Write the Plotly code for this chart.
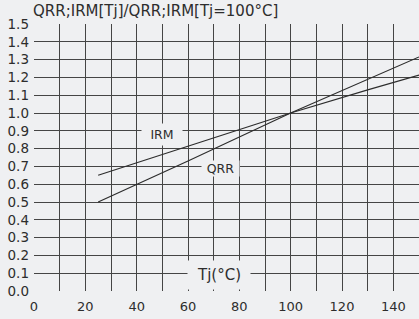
import plotly.graph_objects as go

# Data
tj = [25, 60, 100, 130, 150]
qrr = [0.50, 0.73, 1.00, 1.19, 1.315]
irm = [0.65, 0.815, 1.00, 1.13, 1.213]

x_ticks = [0, 20, 40, 60, 80, 100, 120, 140]
y_ticks = [round(i * 0.1, 1) for i in range(16)]
y_labels = [f"{v:.1f}" for v in y_ticks]

bg = "#eff0f2"
ink = "#2d2d2d"
grid = "#454545"
font = "DejaVu Sans"

fig = go.Figure()
fig.add_trace(go.Scatter(x=tj, y=irm, mode="lines", line=dict(color=ink, width=1.2),
                         name="IRM", showlegend=False, hoverinfo="skip"))
fig.add_trace(go.Scatter(x=tj, y=qrr, mode="lines", line=dict(color=ink, width=1.2),
                         name="QRR", showlegend=False, hoverinfo="skip"))

fig.update_layout(
    width=419, height=319,
    margin=dict(l=34, r=0, t=24, b=28),
    paper_bgcolor=bg, plot_bgcolor=bg,
    font=dict(family=font, color=ink, size=13),
    xaxis=dict(range=[0, 150], tickvals=x_ticks, showgrid=True, gridcolor=grid,
               gridwidth=1.3, zeroline=False, showline=False,
               minor=dict(dtick=10, tick0=0, showgrid=True, gridcolor=grid, gridwidth=1.3),
               ticks="", ticklabelstandoff=6, tickfont=dict(size=13, family=font, color=ink),
               fixedrange=True),
    yaxis=dict(range=[0, 1.5], tickvals=y_ticks, ticktext=y_labels, showgrid=True,
               gridcolor=grid, gridwidth=1.3, zeroline=False, showline=False,
               ticks="", ticklabelstandoff=4, tickfont=dict(size=13.5, family=font, color=ink),
               fixedrange=True),
    annotations=[
        dict(text="QRR;IRM[Tj]/QRR;IRM[Tj=100°C]", xref="paper", yref="paper",
             x=0, y=1, xanchor="left", yanchor="bottom", xshift=-3, yshift=2,
             showarrow=False, font=dict(size=15, family=font, color=ink)),
        dict(text="IRM", x=50, y=0.88, xref="x", yref="y", showarrow=False,
             bgcolor=bg, borderpad=0, width=40, height=21,
             font=dict(size=12.5, family=font, color=ink)),
        dict(text="QRR", x=72.5, y=0.69, xref="x", yref="y", showarrow=False,
             bgcolor=bg, borderpad=0, width=37, height=15,
             font=dict(size=12.5, family=font, color=ink)),
        dict(text="Tj(°C)", x=72, y=0.09, xref="x", yref="y", showarrow=False,
             bgcolor=bg, borderpad=0, width=62, height=28,
             font=dict(size=15, family=font, color=ink)),
    ],
)

fig.write_html("out.html", config={"displayModeBar": False},
               post_script="document.body.style.margin='0';document.body.style.overflow='hidden';document.body.style.background='" + bg + "';")
